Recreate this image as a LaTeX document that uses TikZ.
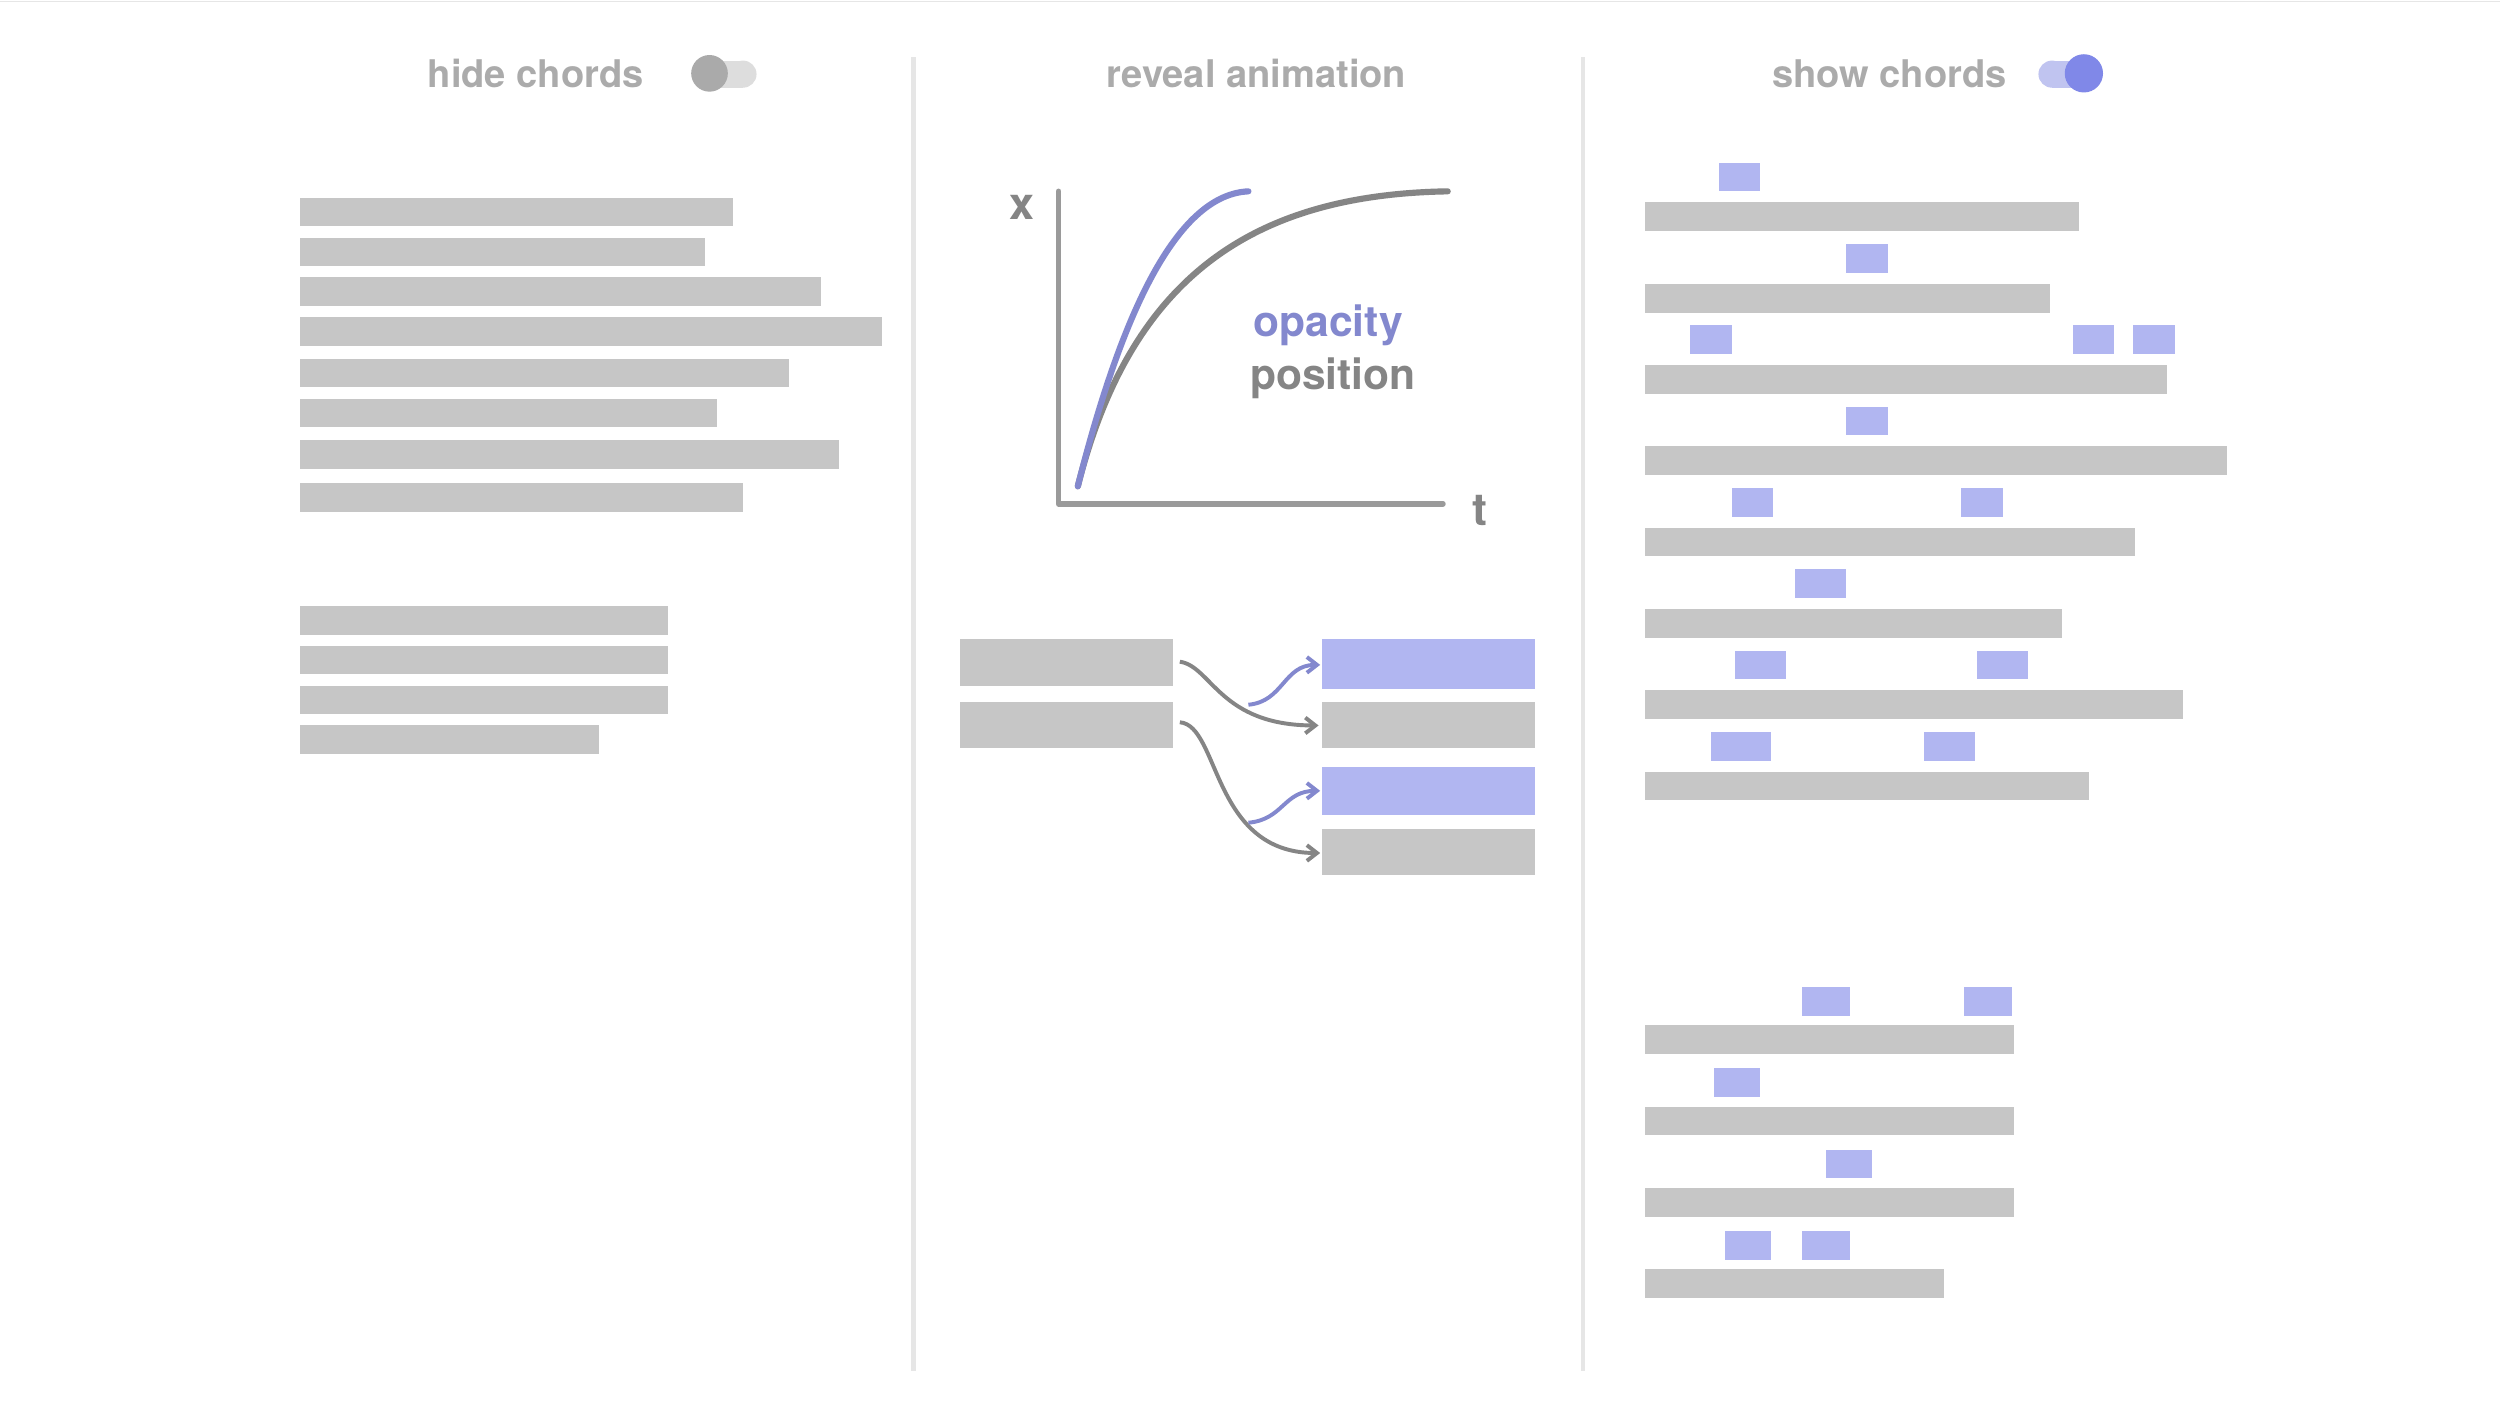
\documentclass[tikz,border=0pt]{standalone}
\usepackage{fontspec}
\setmainfont{TeX Gyre Heros}
\usetikzlibrary{arrows.meta}
\definecolor{gbar}{HTML}{C6C6C6}
\definecolor{bbar}{HTML}{B1B6F1}
\definecolor{hdr}{HTML}{ABABAB}
\definecolor{axisc}{HTML}{9A9A9A}
\definecolor{curveb}{HTML}{8388CE}
\definecolor{curveg}{HTML}{858585}
\definecolor{divc}{HTML}{E6E6E6}
\definecolor{trackg}{HTML}{DDDDDD}
\definecolor{knobg}{HTML}{AAAAAA}
\definecolor{trackb}{HTML}{C0C4F0}
\definecolor{knobb}{HTML}{8088E8}
\newcommand{\gb}[3]{\fill[gbar] (#1,#3-9) rectangle (#2,#3+9);}
\newcommand{\bq}[3]{\fill[bbar] (#1,#3-9) rectangle (#2,#3+9);}
\tikzset{
 hdrtext/.style={text=hdr,font=\bfseries\fontsize{34}{36}\selectfont},
 divline/.style={divc,line width=4pt},
 conn/.style={line width=3.5pt,-{Straight Barb[length=9pt,width=14pt]}},
}
\begin{document}
\begin{tikzpicture}[x=0.05cm,y=-0.05cm]
\useasboundingbox[fill=white] (0,0) rectangle (1568,890);
\draw[divc,line width=1.5pt] (0,1) -- (1568,1);
\draw[divline] (573,36) -- (573,860);
\draw[divline] (993,36) -- (993,860);
% headers
\node[hdrtext] (h1) at (336,46) {hide chords};
\node[hdrtext] (h2) at (788,46) {reveal animation};
\node[hdrtext] (h3) at (1185,46) {show chords};
\fill[trackg] (440,38) rectangle (466,55);
\fill[trackg] (466,46.5) circle (8.5);
\fill[knobg] (445,46) circle (11.5);
\fill[trackb] (1287,38) rectangle (1307,55);
\fill[trackb] (1287,46.5) circle (8.5);
\fill[knobb] (1307,46) circle (12);
% left bars
\gb{188}{460}{133}\gb{188}{442}{158}\gb{188}{515}{183}\gb{188}{553}{208}
\gb{188}{495}{234}\gb{188}{450}{259}\gb{188}{526}{285}\gb{188}{466}{312}
\gb{188}{419}{389}\gb{188}{419}{414}\gb{188}{419}{439}\gb{188}{376}{464}
% chart
\draw[axisc,line width=5pt,line cap=round,line join=round] (664,120) -- (664,316) -- (905,316);
\node[text=curveg,font=\bfseries\fontsize{40}{40}\selectfont] (xl) at (641,130) {x};
\node[text=curveg,font=\bfseries\fontsize{40}{40}\selectfont] (tl) at (928,320) {t};
\draw[curveg,line width=5.5pt,line cap=round] (676,305) .. controls (710,170) and (790,122) .. (908,120);
\draw[curveb,line width=5.5pt,line cap=round] (676,305) .. controls (705,190) and (740,122) .. (783,120);
\node[text=curveb,font=\bfseries\fontsize{38}{40}\selectfont] (op) at (833,204) {opacity};
\node[text=curveg,font=\bfseries\fontsize{38}{40}\selectfont] (pos) at (836,237) {position};
% animation boxes
\fill[gbar] (602,401) rectangle (736,430); \coordinate (l1) at (740,415);
\fill[gbar] (602,440) rectangle (736,469); \coordinate (l2) at (740,453);
\fill[bbar] (829,401) rectangle (963,432); \coordinate (r1) at (828,417);
\fill[gbar] (829,440) rectangle (963,469); \coordinate (r2) at (827,455);
\fill[bbar] (829,481) rectangle (963,511); \coordinate (r3) at (828,496);
\fill[gbar] (829,520) rectangle (963,549); \coordinate (r4) at (828,535);
\coordinate (b1) at (783,442); \coordinate (b2) at (783,516);
\draw[conn,curveg] (l1) .. controls (760,418) and (765,455) .. (r2);
\draw[conn,curveg] (l2) .. controls (765,455) and (760,535) .. (r4);
\draw[conn,curveb] (b1) .. controls (805,440) and (805,417) .. (r1);
\draw[conn,curveb] (b2) .. controls (805,514) and (805,496) .. (r3);
% right bars
\gb{1032}{1304}{136}\gb{1032}{1286}{187}\gb{1032}{1359}{238}\gb{1032}{1397}{289}
\gb{1032}{1339}{340}\gb{1032}{1293}{391}\gb{1032}{1369}{442}\gb{1032}{1310}{493}
\gb{1032}{1263}{652}\gb{1032}{1263}{703}\gb{1032}{1263}{754}\gb{1032}{1219}{805}
% chord squares
\bq{1078}{1104}{111}\bq{1158}{1184}{162}
\bq{1060}{1086}{213}\bq{1300}{1326}{213}\bq{1338}{1364}{213}
\bq{1158}{1184}{264}\bq{1086}{1112}{315}\bq{1230}{1256}{315}
\bq{1126}{1158}{366}\bq{1088}{1120}{417}\bq{1240}{1272}{417}
\bq{1073}{1111}{468}\bq{1207}{1239}{468}
\bq{1130}{1160}{628}\bq{1232}{1262}{628}\bq{1075}{1104}{679}
\bq{1145}{1174}{730}\bq{1082}{1111}{781}\bq{1130}{1160}{781}
\end{tikzpicture}
\end{document}
